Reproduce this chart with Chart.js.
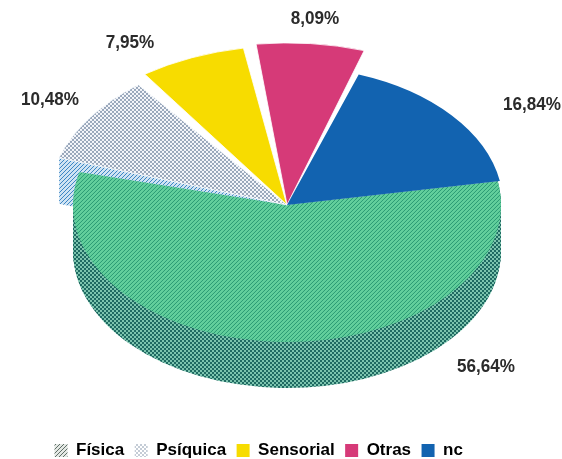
<!DOCTYPE html>
<html><head><meta charset="utf-8">
<script src="https://cdn.jsdelivr.net/npm/chart.js@4"></script>
<style>html,body{margin:0;padding:0;background:#fff}canvas{display:block}</style>
</head><body><canvas id="c" width="562" height="459"></canvas>
<script>
const categories = ['Física','Psíquica','Sensorial','Otras','nc'];
const values = [56.64,10.48,7.95,8.09,16.84];
const solidColors = ['#2fa878','#dfe6f1','#f7dc00','#d63a78','#1263b0'];
const radiusFactors = [1,1.12,1.16,1.18,1.01];
const sliceOffsets = [0,0,2,2,0];
const sliceBorders = [0,1,1,1,0];
const startTrimDeg = [0,4,3.5,2.7,0];
const endTrimDeg = [0,0,0.3,1.6,0];
const labelPositions = [[486,367],[50,100],[130,43],[315,19],[532,105]];

const FONT = '"Liberation Sans Narrow","Liberation Sans",sans-serif';
const SQUASH = 0.64, CX = 287, CY = 205, R = 214, DEPTH = 46;

function pat(size, paint){
  const c = document.createElement('canvas'); c.width = c.height = size;
  const x = c.getContext('2d'); paint(x, size);
  return c;
}
function hatch(bg, fg){
  return pat(4,(x,s)=>{x.fillStyle=bg;x.fillRect(0,0,s,s);x.fillStyle=fg;
    [[0,3],[1,2],[2,1],[3,0]].forEach(p=>x.fillRect(p[0],p[1],1,1));});
}
function dots(bg, fg){
  return pat(4,(x,s)=>{x.fillStyle=bg;x.fillRect(0,0,s,s);x.fillStyle=fg;
    x.fillRect(0,0,2,2);x.fillRect(2,2,2,2);});
}
const ctx0 = document.getElementById('c').getContext('2d');
function flat(img){ return ctx0.createPattern(img,'repeat'); }
function squashed(img){
  const p = flat(img); p.setTransform(new DOMMatrix().scale(1,1/SQUASH)); return p;
}
const tops = [
  squashed(hatch('#62cf9c','#2a9a74')),
  squashed(dots('#f6f8fc','#98a6ba')),
  solidColors[2], solidColors[3], solidColors[4]
];
const walls = {0: flat(dots('#7cc4ae','#1f6a62')), 1: flat(hatch('#cfe3f3','#3d86c4'))};
const legendFills = [flat(hatch('#e4e8e4','#5f6f68')), flat(dots('#ffffff','#c4ccd6')), solidColors[2], solidColors[3], solidColors[4]];

function applyView(ctx, meta){
  const a = meta.data[0];
  ctx.translate(CX,CY); ctx.scale(1,SQUASH); ctx.translate(-a.x,-a.y);
}
const pie3d = {
  id:'pie3d',
  afterDatasetsUpdate(chart){
    chart.getDatasetMeta(0).data.forEach((a,i)=>{
      a.outerRadius = R*radiusFactors[i]; a.innerRadius = 0;
      a.startAngle += startTrimDeg[i]*Math.PI/180;
      a.endAngle -= endTrimDeg[i]*Math.PI/180;
      a.circumference = a.endAngle - a.startAngle;
    });
  },
  beforeDatasetsDraw(chart){
    const ctx = chart.ctx, meta = chart.getDatasetMeta(0);
    Object.keys(walls).forEach(k=>{
      const a = meta.data[+k];
      const off = document.createElement('canvas');
      off.width = chart.width; off.height = chart.height;
      const o = off.getContext('2d');
      const saved = a.options;
      a.options = Object.assign({}, saved, {backgroundColor:'#000',borderWidth:0});
      for(let d=DEPTH;d>=0;d--){
        o.save(); o.translate(0,d); applyView(o,meta); a.draw(o); o.restore();
      }
      a.options = saved;
      o.globalCompositeOperation='source-in';
      o.fillStyle = walls[k]; o.fillRect(0,0,off.width,off.height);
      ctx.drawImage(off,0,0);
    });
    ctx.save(); applyView(ctx,meta);
  },
  afterDatasetsDraw(chart){
    const ctx = chart.ctx;
    ctx.restore();
    ctx.font = 'bold 18px '+FONT; ctx.fillStyle='#2b2b2b';
    ctx.textAlign='center'; ctx.textBaseline='middle';
    values.forEach((v,i)=>{
      ctx.save();
      ctx.translate(labelPositions[i][0], labelPositions[i][1]);
      ctx.scale(0.95,1.05);
      ctx.fillText(v.toFixed(2).replace('.',',')+'%', 0, 0);
      ctx.restore();
    });
  }
};
new Chart(ctx0,{
  type:'pie',
  data:{labels:categories,datasets:[{data:values,backgroundColor:tops,borderColor:'#ffffff',borderWidth:sliceBorders,offset:sliceOffsets,clip:false}]},
  plugins:[pie3d],
  options:{
    responsive:false,animation:false,rotation:80,
    layout:{padding:{left:44,bottom:-10}},
    plugins:{
      tooltip:{enabled:false},
      legend:{position:'bottom',align:'start',
        labels:{boxWidth:13,boxHeight:13,padding:10.5,color:'#2b2b2b',
          font:{family:FONT,size:17,weight:'bold'},
          generateLabels(){return categories.map((t,i)=>({text:t,fillStyle:legendFills[i],strokeStyle:'transparent',lineWidth:0,index:i}));}
        }}
    }
  }
});
</script></body></html>
